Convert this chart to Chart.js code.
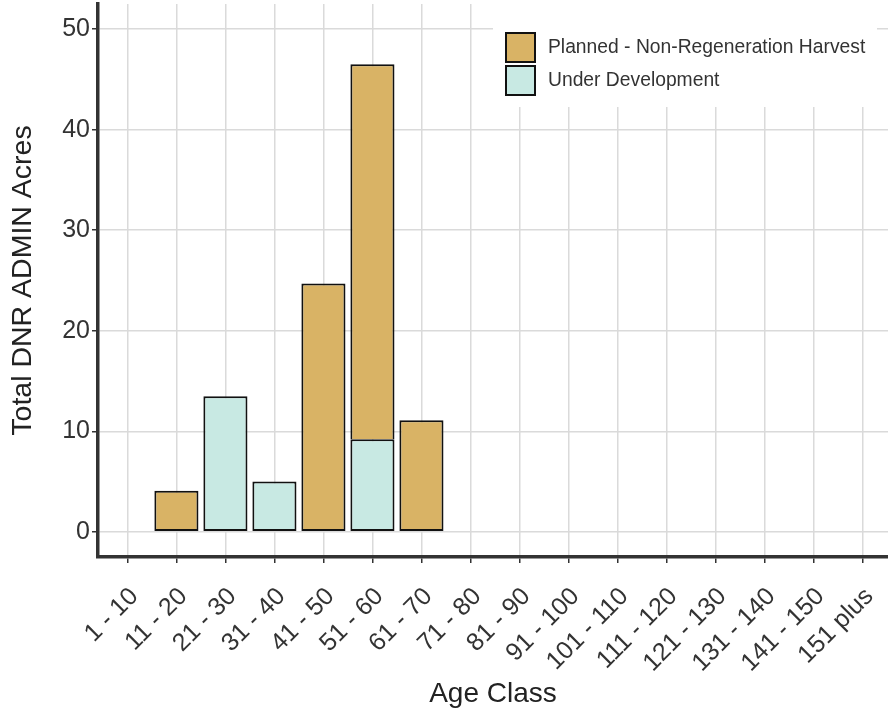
<!DOCTYPE html>
<html>
<head>
<meta charset="utf-8">
<script src="https://cdn.jsdelivr.net/npm/chart.js@4.4.1/dist/chart.umd.min.js"></script>
<style>
  html, body { margin: 0; padding: 0; background: #fff; }
  #wrap { width: 888px; height: 717px; }
</style>
</head>
<body>
<div id="wrap"><canvas id="age-chart" width="888" height="717"></canvas></div>
<script>
// --- DATA ---
const ageClasses = ['1 - 10','11 - 20','21 - 30','31 - 40','41 - 50','51 - 60','61 - 70','71 - 80',
  '81 - 90','91 - 100','101 - 110','111 - 120','121 - 130','131 - 140','141 - 150','151 plus'];
const plannedAcres = [0, 4.1, 0, 0, 24.7, 37.3, 11.1, 0, 0, 0, 0, 0, 0, 0, 0, 0];
const underDevAcres = [0, 0, 13.5, 5.0, 0, 9.2, 0, 0, 0, 0, 0, 0, 0, 0, 0, 0];
const yTickValues = [0, 10, 20, 30, 40, 50];
const seriesNames = ['Planned - Non-Regeneration Harvest', 'Under Development'];
const seriesColors = ['#D9B365', '#C8E9E3'];

const FONT = '"Liberation Sans", Arial, sans-serif';

function toPoints(values) {
    return values.map((v, i) => ({ x: i, y: v === 0 ? null : v }));
}

// legend drawn inside the plot, top right, on a white box
const insideLegend = {
    id: 'insideLegend',
    afterDraw(chart) {
        const ctx = chart.ctx;
        const area = chart.chartArea;
        const boxX = area.right - 395, boxY = area.top, boxW = 384, boxH = 103;
        ctx.save();
        ctx.fillStyle = '#fff';
        ctx.fillRect(boxX, boxY, boxW, boxH);
        ctx.font = '19.3px ' + FONT;
        ctx.textBaseline = 'middle';
        seriesNames.forEach((name, i) => {
            const sx = boxX + 12, sy = boxY + 28 + i * 33;
            ctx.fillStyle = seriesColors[i];
            ctx.fillRect(sx, sy, 31, 31);
            ctx.strokeStyle = '#111';
            ctx.lineWidth = 2;
            ctx.strokeRect(sx + 1, sy + 1, 29, 29);
            ctx.fillStyle = '#333';
            ctx.fillText(name, sx + 43, sy + 16);
        });
        ctx.restore();
    }
};

const ctx = document.getElementById('age-chart').getContext('2d');
const ageChart = new Chart(ctx, {
    type: 'bar',
    data: {
        datasets: [
            { label: seriesNames[1], data: toPoints(underDevAcres), backgroundColor: seriesColors[1],
              borderColor: '#111', borderWidth: 2, borderSkipped: false },
            { label: seriesNames[0], data: toPoints(plannedAcres), backgroundColor: seriesColors[0],
              borderColor: '#111', borderWidth: 2,
              // no doubled line where the segment sits on an under-development segment
              borderSkipped: c => (underDevAcres[c.dataIndex] > 0 ? 'bottom' : false) }
        ]
    },
    options: {
        responsive: false,
        animation: false,
        devicePixelRatio: 1,
        barPercentage: 0.9,
        categoryPercentage: 1.0,
        layout: { padding: { top: 4, right: 0, left: 0, bottom: 0 } },
        plugins: { legend: { display: false }, tooltip: { enabled: false } },
        scales: {
            x: {
                type: 'linear',
                stacked: true,
                offset: false,
                min: -0.6,
                max: 15.52,
                afterBuildTicks: s => { s.ticks = ageClasses.map((_, i) => ({ value: i })); },
                afterFit: s => { s.height = 160; s.paddingLeft = 0; s.paddingRight = 0; },
                grid: { offset: false, color: '#DADADA', lineWidth: 1.5, tickColor: '#333', tickLength: 6, tickWidth: 1.5 },
                border: { color: '#333', width: 3.5 },
                ticks: {
                    autoSkip: false, minRotation: 45, maxRotation: 45, padding: 19, labelOffset: 7,
                    color: '#333', font: { family: FONT, size: 25 },
                    callback: v => ageClasses[Math.round(v)]
                },
                title: { display: true, text: 'Age Class', color: '#222',
                         font: { family: FONT, size: 28 }, padding: { top: 6, bottom: 6 } }
            },
            y: {
                stacked: true,
                min: -2.5,
                max: 52.5,
                afterBuildTicks: s => { s.ticks = yTickValues.map(v => ({ value: v })); },
                afterFit: s => { s.width = 98; s.paddingTop = 0; s.paddingBottom = 0; },
                grid: { color: '#DADADA', lineWidth: 1.5, tickColor: '#333', tickLength: 6, tickWidth: 1.5 },
                border: { color: '#333', width: 3.5 },
                ticks: { padding: 2, color: '#333', font: { family: FONT, size: 25 } },
                title: { display: true, text: 'Total DNR ADMIN Acres', color: '#222',
                         font: { family: FONT, size: 28.5 }, padding: { top: 6, bottom: 0 } }
            }
        }
    },
    plugins: [insideLegend]
});
</script>
</body>
</html>
